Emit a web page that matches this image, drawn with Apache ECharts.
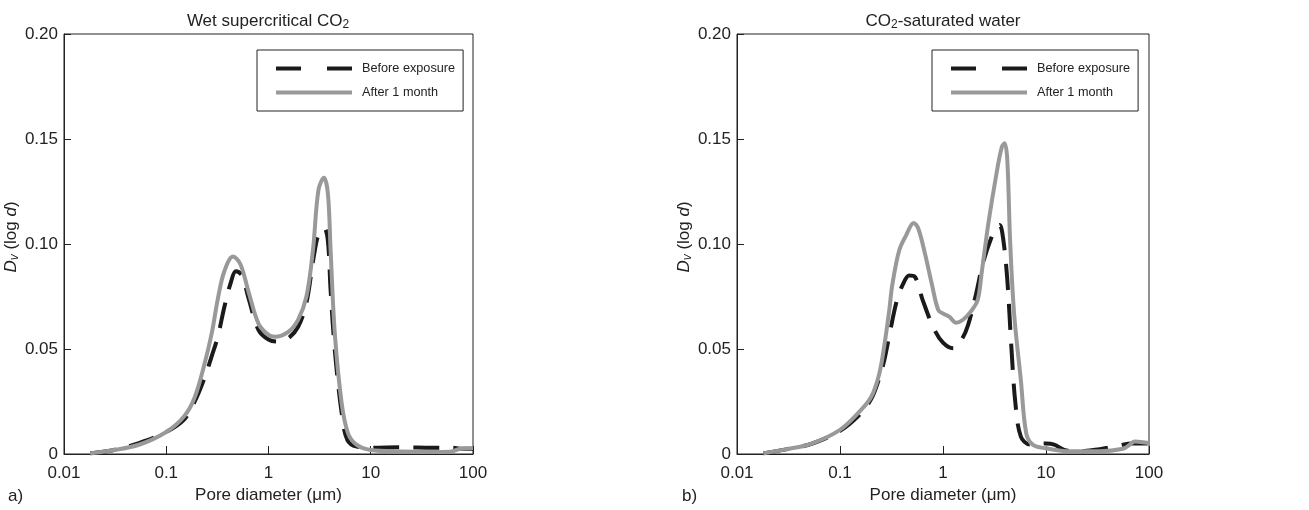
<!DOCTYPE html>
<html>
<head>
<meta charset="utf-8">
<script src="https://cdn.jsdelivr.net/npm/echarts@6/dist/echarts.min.js"></script>
<style>
  html, body { margin: 0; padding: 0; background: #fff; }
  #chart { width: 1309px; height: 510px; }
</style>
</head>
<body>
<div id="chart"></div>
<script>
// Pore size distributions, D_v(log d) against pore diameter in µm.

// Panel a: wet supercritical CO2
const aBeforeD = [0.018, 0.03, 0.054, 0.1, 0.15, 0.19, 0.24, 0.28, 0.32, 0.37, 0.43, 0.48, 0.55, 0.64, 0.8, 1.0, 1.22, 1.55, 1.95, 2.35, 2.75, 3.1, 3.5, 3.8, 4.05, 4.45, 5.2, 5.9, 7.3, 10, 20, 40, 60, 80, 100];
const aBeforeV = [0.0003, 0.0018, 0.0052, 0.0105, 0.0165, 0.025, 0.037, 0.047, 0.056, 0.07, 0.082, 0.087, 0.085, 0.074, 0.059, 0.0545, 0.0535, 0.055, 0.0606, 0.072, 0.093, 0.105, 0.1075, 0.102, 0.078, 0.0495, 0.0194, 0.0067, 0.0035, 0.003, 0.0032, 0.003, 0.003, 0.0025, 0.0025];
const aAfterD = [0.018, 0.03, 0.054, 0.1, 0.15, 0.19, 0.24, 0.28, 0.32, 0.37, 0.45, 0.53, 0.64, 0.8, 1.0, 1.15, 1.55, 1.95, 2.35, 2.72, 3.08, 3.48, 3.81, 4.05, 4.45, 5.2, 6.0, 7.3, 10, 20, 40, 60, 75, 100];
const aAfterV = [0.0003, 0.0018, 0.0044, 0.0105, 0.018, 0.027, 0.044, 0.058, 0.074, 0.087, 0.094, 0.0905, 0.077, 0.062, 0.0567, 0.0558, 0.058, 0.064, 0.075, 0.097, 0.1257, 0.1315, 0.124, 0.097, 0.0575, 0.024, 0.0098, 0.0043, 0.0019, 0.0012, 0.001, 0.0011, 0.0025, 0.0029];

// Panel b: CO2-saturated water
const bBeforeD = [0.018, 0.03, 0.054, 0.1, 0.15, 0.2, 0.24, 0.27, 0.3, 0.354, 0.41, 0.47, 0.53, 0.635, 0.81, 1.0, 1.26, 1.51, 1.75, 2.1, 2.44, 3.0, 3.31, 3.55, 3.85, 4.21, 4.61, 5.05, 5.7, 7, 10, 12, 15, 20, 30, 45, 70, 100];
const bBeforeV = [0.0003, 0.0022, 0.005, 0.011, 0.018, 0.026, 0.036, 0.045, 0.056, 0.0725, 0.081, 0.085, 0.0845, 0.0733, 0.06, 0.053, 0.0503, 0.0543, 0.0614, 0.0765, 0.0908, 0.104, 0.1075, 0.109, 0.102, 0.083, 0.051, 0.024, 0.0083, 0.0045, 0.005, 0.0045, 0.002, 0.0012, 0.002, 0.0035, 0.005, 0.005];
const bAfterD = [0.018, 0.03, 0.054, 0.1, 0.15, 0.2, 0.24, 0.27, 0.3, 0.323, 0.376, 0.437, 0.52, 0.574, 0.667, 0.776, 0.9, 1.02, 1.15, 1.34, 1.55, 1.86, 2.17, 2.37, 2.76, 3.31, 3.73, 3.97, 4.21, 4.48, 4.9, 5.7, 6.43, 7.48, 10, 17, 33, 56, 65, 73, 100];
const bAfterV = [0.0003, 0.0022, 0.0051, 0.0115, 0.0195, 0.027, 0.038, 0.052, 0.068, 0.081, 0.097, 0.104, 0.110, 0.1075, 0.0956, 0.0813, 0.0686, 0.0667, 0.0654, 0.0625, 0.0638, 0.0678, 0.0733, 0.086, 0.110, 0.1337, 0.1463, 0.148, 0.14, 0.102, 0.067, 0.0352, 0.0098, 0.0043, 0.0027, 0.0013, 0.0013, 0.0025, 0.0044, 0.006, 0.0052];

const seriesNames = ['Before exposure', 'After 1 month'];
const yTicks = [0, 0.05, 0.10, 0.15, 0.20];

const FONT = "'Liberation Sans', Arial, Helvetica, sans-serif";
const INK = '#222';
const DARK = '#1a1a1a';
const GREY = '#999999';
const HIDDEN = { color: 'rgba(0,0,0,0)', borderWidth: 0, opacity: 0 };

const zip = (xs, ys) => xs.map((x, i) => [x, ys[i]]);

function xAxis(gridIndex) {
  return {
    type: 'log', logBase: 10, gridIndex,
    min: 0.01, max: 100,
    axisLine: { show: true, onZero: false, lineStyle: { color: INK, width: 1 } },
    axisTick: { show: true, inside: true, length: 8, lineStyle: { color: INK, width: 1 } },
    minorTick: { show: false },
    splitLine: { show: false },
    axisLabel: {
      fontSize: 17, fontFamily: FONT, color: INK, margin: 11,
      formatter: v => {
        const e = Math.round(Math.log10(v));
        return e < 0 ? Math.pow(10, e).toFixed(-e) : String(Math.pow(10, e));
      }
    },
    name: 'Pore diameter (μm)', nameLocation: 'middle', nameGap: 33,
    nameTextStyle: { fontSize: 17, fontFamily: FONT, color: INK }
  };
}

function yAxis(gridIndex) {
  return {
    type: 'value', gridIndex,
    min: yTicks[0], max: yTicks[yTicks.length - 1], interval: 0.05,
    axisLine: { show: true, lineStyle: { color: INK, width: 1 } },
    axisTick: { show: true, inside: true, length: 7, lineStyle: { color: INK, width: 1 } },
    splitLine: { show: false },
    axisLabel: {
      fontSize: 17, fontFamily: FONT, color: INK, margin: 6,
      formatter: v => (v === 0 ? '0' : v.toFixed(2))
    },
    name: '{i|D}{sub|v} (log {i|d})', nameLocation: 'middle', nameGap: 40,
    nameTextStyle: {
      fontSize: 17, fontFamily: FONT, color: INK, lineHeight: 20,
      padding: [0, 0, 0, 14],
      rich: {
        i: { fontStyle: 'italic', fontSize: 17, fontFamily: FONT, color: INK },
        sub: { fontStyle: 'italic', fontSize: 12, fontFamily: FONT, color: INK, verticalAlign: 'bottom', lineHeight: 8 }
      }
    }
  };
}

function legend(left) {
  return {
    left, top: 50, orient: 'vertical',
    backgroundColor: '#fff', borderColor: INK, borderWidth: 1, borderRadius: 0,
    padding: [12, 8, 12, 17],
    itemWidth: 76, itemHeight: 14, itemGap: 11,
    selectedMode: false,
    textStyle: { fontSize: 12.7, fontFamily: FONT, color: INK, padding: [0, 0, 0, 5] },
    data: [
      { name: seriesNames[0], itemStyle: HIDDEN, lineStyle: { type: [25, 26], width: 4, color: DARK, opacity: 1 } },
      { name: seriesNames[1], itemStyle: HIDDEN, lineStyle: { type: 'solid', width: 4, color: GREY, opacity: 1 } }
    ]
  };
}

function lines(idx, beforeD, beforeV, afterD, afterV) {
  return [
    {
      type: 'line', name: seriesNames[0], xAxisIndex: idx, yAxisIndex: idx,
      data: zip(beforeD, beforeV), symbol: 'none', smooth: 0.35, z: 2,
      lineStyle: { color: DARK, width: 4, type: [26, 14] },
      itemStyle: { color: DARK }
    },
    {
      type: 'line', name: seriesNames[1], xAxisIndex: idx, yAxisIndex: idx,
      data: zip(afterD, afterV), symbol: 'none', smooth: 0.35, z: 3,
      lineStyle: { color: GREY, width: 4, type: 'solid' },
      itemStyle: { color: GREY }
    }
  ];
}

function panelTitle(x, text) {
  return {
    type: 'text', x, y: 21, silent: true,
    style: {
      text, fill: INK, fontSize: 17, fontFamily: FONT,
      align: 'center', verticalAlign: 'middle', lineHeight: 20,
      rich: { sub: { fontSize: 12, fontFamily: FONT, fill: INK, verticalAlign: 'bottom', lineHeight: 8 } }
    }
  };
}

function panelTag(x, text) {
  return {
    type: 'text', x, y: 496, silent: true,
    style: { text, fill: INK, fontSize: 17, fontFamily: FONT, align: 'left', verticalAlign: 'middle' }
  };
}

const chart = echarts.init(document.getElementById('chart'), null, { renderer: 'canvas' });
chart.setOption({
  animation: false,
  backgroundColor: '#fff',
  grid: [
    { left: 63, top: 34, width: 410, height: 420, show: true, borderColor: INK, borderWidth: 1, backgroundColor: 'transparent', containLabel: false },
    { left: 737, top: 34, width: 412, height: 420, show: true, borderColor: INK, borderWidth: 1, backgroundColor: 'transparent', containLabel: false }
  ],
  xAxis: [xAxis(0), xAxis(1)],
  yAxis: [yAxis(0), yAxis(1)],
  legend: [legend(257), legend(932)],
  series: [
    ...lines(0, aBeforeD, aBeforeV, aAfterD, aAfterV),
    ...lines(1, bBeforeD, bBeforeV, bAfterD, bAfterV)
  ],
  graphic: [
    panelTitle(268, 'Wet supercritical CO{sub|2}'),
    panelTitle(943, 'CO{sub|2}-saturated water'),
    panelTag(8, 'a)'),
    panelTag(682, 'b)')
  ]
});
</script>
</body>
</html>
